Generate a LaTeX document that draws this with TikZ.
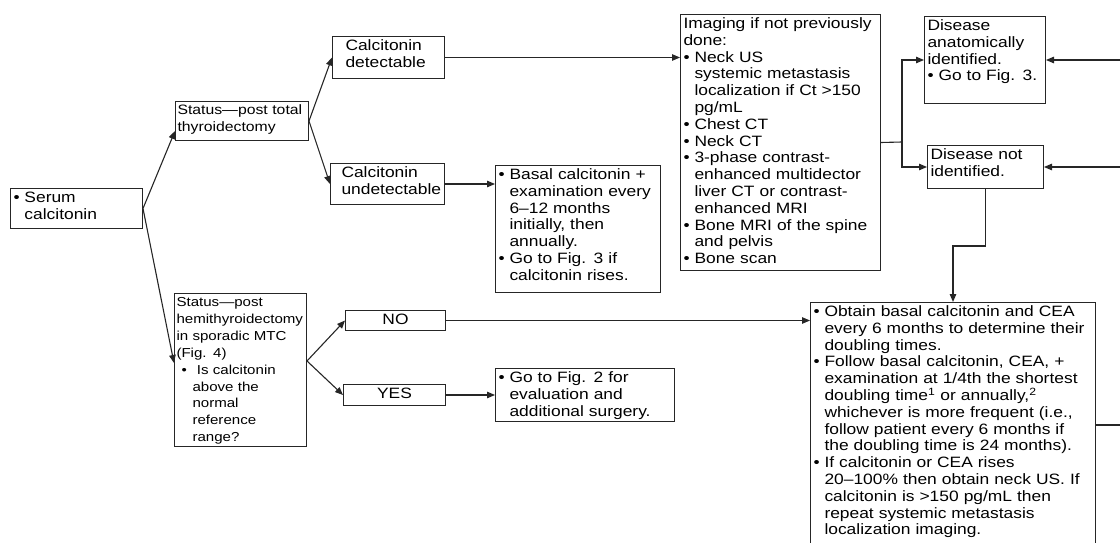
\documentclass[tikz,border=0pt]{standalone}
\usepackage{fontspec}
\setmainfont{Liberation Sans}[FakeStretch=1.16]
\usetikzlibrary{arrows.meta}

\newcommand{\txtfs}{\fontsize{15}{16.8}\selectfont\hyphenpenalty=10000\exhyphenpenalty=10000\relax}
\newcommand{\stfs}{\fontsize{13}{16.9}\selectfont\hyphenpenalty=10000\exhyphenpenalty=10000\relax}
\newcommand{\sttfs}{\fontsize{13.6}{16.9}\selectfont\hyphenpenalty=10000\exhyphenpenalty=10000\relax}
\newcommand{\bul}[1][0pt]{\hangindent=\dimexpr11pt+#1\relax\hangafter=1\hspace*{#1}\makebox[11pt][l]{\textbullet}}
\newcommand{\nl}{\newline}

\tikzset{
  box/.style={draw=black!85, line width=1pt, anchor=north west, inner xsep=3pt, inner ysep=3pt,
    align=left, font=\txtfs, text height=11pt},
  stbox/.style={box, font=\stfs, text height=10pt},
  flow/.style={draw=black!85, line width=1.1pt, -{Triangle[length=8pt,width=6.5pt]}},
  link/.style={draw=black!85, line width=1.1pt},
}

\begin{document}
\begin{tikzpicture}[x=1pt, y=-1pt]
		% Frame
		\path[use as bounding box, clip] (0,0) rectangle (1120,543);
		
		% Boxes
		\node[box, text width=126pt, text depth=23pt] (serum) at (10,188) {\bul Serum\nl calcitonin\par};
		\node[stbox, font=\sttfs, inner xsep=2pt, text width=129pt, text depth=23pt] (totalst) at (175,101) {Status---post total\nl thyroidectomy\par};
		\node[box, text width=106pt, text depth=25pt] (detect) at (332,36) {\leftskip=10pt Calcitonin\nl detectable\par};
		\node[box, text width=108pt, text depth=24pt] (undet) at (330,163) {\leftskip=8pt Calcitonin\nl undetectable\par};
		\node[box, text width=159pt, text depth=110pt] (basal) at (495,165) {\bul Basal calcitonin +\nl examination every\nl 6--12 months\nl initially, then\nl annually.\par
			\bul Go to Fig. 3 if\nl calcitonin rises.\par};
		\node[box, text width=194pt, text depth=239pt] (imaging) at (680,14) {Imaging if not previously\nl done:\par
			\bul Neck US\nl systemic metastasis\nl localization if Ct >150\nl pg/mL\par
			\bul Chest CT\par
			\bul Neck CT\par
			\bul 3-phase contrast-\nl enhanced multidector\nl liver CT or contrast-\nl enhanced MRI\par
			\bul Bone MRI of the spine\nl and pelvis\par
			\bul Bone scan\par};
		\node[box, text width=115pt, text depth=70pt] (anat) at (924,16) {Disease\nl anatomically\nl identified.\par\bul Go to Fig. 3.\par};
		\node[box, text width=110pt, text depth=26pt] (notid) at (927,145) {Disease not\nl identified.\par};
		\node[stbox, inner xsep=2pt, text width=128pt, text depth=137pt] (hemi) at (174,293) {Status---post\nl hemithyroidectomy\nl in sporadic MTC\nl (Fig. 4)\par
			\bul[5pt] Is calcitonin\nl above the\nl normal\nl reference\nl range?\par};
		\node[box, align=center, text width=94pt, text depth=3pt] (NO) at (345,310) {NO};
		\node[box, align=center, text width=96pt, text depth=4pt] (YES) at (343,384) {YES};
		\node[box, text width=173pt, text depth=36pt] (fig2) at (495,368) {\bul Go to Fig. 2 for\nl evaluation and\nl additional surgery.\par};
		\node[box, text width=279pt, text depth=241pt] (big) at (810,302) {\bul Obtain basal calcitonin and CEA\nl every 6 months to determine their\nl doubling times.\par
			\bul Follow basal calcitonin, CEA, +\nl examination at 1/4th the shortest\nl doubling time\textsuperscript{1} or annually,\textsuperscript{2}\nl whichever is more frequent (i.e.,\nl follow patient every 6 months if\nl the doubling time is 24 months).\par
			\bul If calcitonin or CEA rises\nl 20--100\% then obtain neck US. If\nl calcitonin is >150 pg/mL then\nl repeat systemic metastasis\nl localization imaging.\par};
		
		% Helper points
		\coordinate (split) at (902,142);
		\coordinate (rim) at (1126,0);
		\coordinate (bigout) at ([yshift=-123pt]big.north east);
		
		% Arrows
		\draw[flow] (serum.east) -- ([yshift=10pt]totalst.south west);
		\draw[flow] (serum.east) -- ([yshift=7pt]hemi.west);
		\draw[flow] (totalst.east) -- (detect.west);
		\draw[flow] (totalst.east) -- (undet.west);
		\draw[flow] (detect.east) -- (detect.east -| imaging.west);
		\draw[flow] (undet.east) -- (undet.east -| basal.west);
		\draw[link] (imaging.east) -- (split);
		\draw[flow] (split) |- (anat.west);
		\draw[flow] (split) |- (notid.west);
		\draw[flow] (anat.east -| rim) -- (anat.east);
		\draw[flow] (notid.east -| rim) -- (notid.east);
		\draw[flow] (notid.south) -- ++(0,57) -| (big.north);
		\draw[flow] ([yshift=9pt]hemi.east) -- (NO.west);
		\draw[flow] ([yshift=9pt]hemi.east) -- (YES.west);
		\draw[flow] (NO.east) -- (NO.east -| big.west);
		\draw[flow] (YES.east) -- (YES.east -| fig2.west);
		\draw[link] (bigout) -- (bigout -| rim);
\end{tikzpicture}
\end{document}
